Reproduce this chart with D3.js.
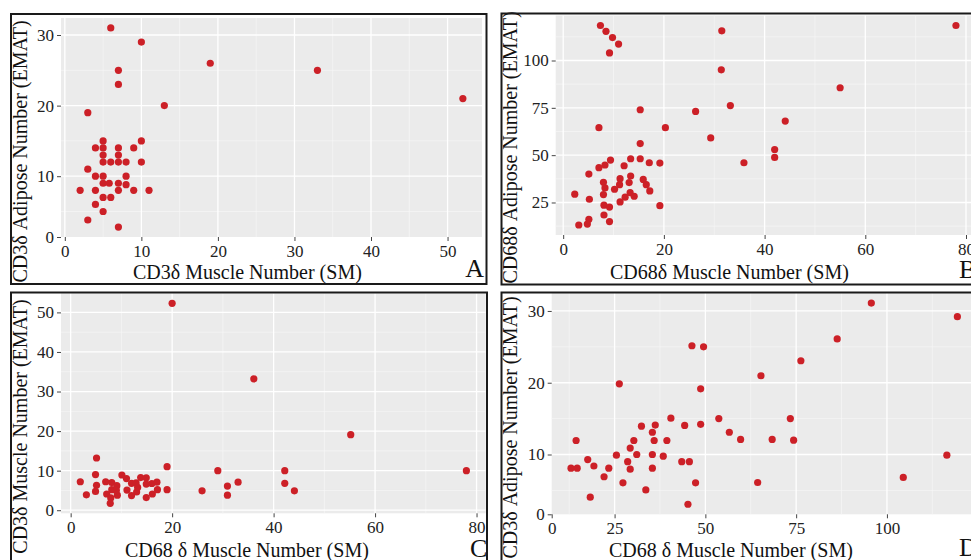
<!DOCTYPE html>
<html>
<head>
<meta charset="utf-8">
<script src="https://cdn.jsdelivr.net/npm/d3@7/dist/d3.min.js"></script>
<style>
body { margin: 0; background: #fff; }
svg { display: block; font-family: "Liberation Serif", "Times New Roman", serif; }
</style>
</head>
<body>
<div id="chart"></div>
<script>
// A: CD3 muscle (x) vs CD3 adipose (y)
var aX = [6,10,7,7,19,13,3,5,10,4,5,7,9,5,7,5,6,7,8,10,3,4,5,8,5,5.8,7,8,2,4,7,9,11,5,6,4,5,3,7,33,52]
var aY = [31,29,25,23,26,20,19,15,15,14,14,14,14,13,13,12,12,12,12,12,11,10,10,10,9,9,9,8.8,8,8,8,8,8,7,7,6,5,3.8,2.8,25,21]

// B: CD68 muscle (x) vs CD68 adipose (y)
var bX = [7.4,8.5,9.8,11,9.2,15.3,7.1,20.3,26.3,29.3,31.5,31.4,33.2,15.3,9.4,13.4,15.3,8.3,7.1,12.1,17.1,19.2,5.1,8,8.3,10.2,11.3,11.2,13.4,13.1,15.9,16.5,17.2,13.3,14.1,12.3,11.3,8,2.3,5.2,8.1,9.2,19.2,8.1,5.1,4.8,9.2,3.1,35.9,42,42,44.1,55,78]
var bY = [118.5,115.4,112.1,108.7,104,74,64.5,64.5,73.1,59.1,115.7,95.1,76.2,56.1,47.4,48.1,48.1,44.8,43.4,44.4,46,45.8,40,35.7,32.7,32,37.6,34.4,39,35.5,37.2,34.4,31.1,30.2,28.3,27.8,25.3,29.2,29.4,26.7,23.6,22.6,23.3,18.4,16.1,13.6,14.9,13.1,46,53,48.8,68,85.6,118.5]

// C: CD68 muscle (x) vs CD3 muscle (y)
var cX = [20,5.1,19,1.9,3.1,4.9,5.1,4.9,6.9,7.1,8.1,8.1,7.9,7.8,9.1,9.2,9,10.1,11,11.1,12,12,12.9,13,13.2,13.8,14.9,14.9,14.9,16,16.1,17,17.1,19,25.9,29,30.9,30.9,33,36.1,55.2,42.2,42.2,44.1,78]
var cY = [52.3,13.2,11,7.2,3.9,9,6.3,4.75,7.2,4.1,7,5.2,3.1,1.75,6.2,3.8,5,8.9,8,5.1,6.8,3.7,6.9,4.6,5.75,8.25,8.2,6.6,3.2,6.75,4.1,7.1,5.2,5.2,4.9,10,6.1,3.8,7.1,33.2,19.1,10,6.8,4.9,10]

// D: CD68 adipose (x) vs CD3 adipose (y)
var dX = [13,14.7,14.4,17.6,18.3,19.3,22.1,23.4,25.5,26.3,27.3,28.6,29.3,29.3,30.3,31.1,32.4,33.6,35.4,35.4,35.4,35.9,36.2,38.4,39.4,40.5,43.5,44.3,45.6,45.2,46.3,47.3,48.7,48.7,49.5,53.7,56.6,59.7,95.7,119.4,86.3,76.3,65.3,73.4,68.4,74.3,64.4,104.5,116.5]
var dY = [8.1,8.1,11.95,9.3,4.05,8.4,6.9,8.1,9.9,19.85,6.05,9,10.9,7.95,11.95,10,13.95,5.06,13.1,10,8.1,11.95,14.1,9.76,11.95,15.06,9,14.05,9,3.07,25.15,6.05,19.15,14.2,25,15,13.1,12.1,31.1,29.2,26.1,23.06,20.97,15,12.1,12,6.1,6.8,9.9]

// tick labels
var aXTicks = [0,10,20,30,40,50], aYTicks = [0,10,20,30]
var bXTicks = [0,20,40,60,80],    bYTicks = [25,50,75,100]
var cXTicks = [0,20,40,60,80],    cYTicks = [0,10,20,30,40,50]
var dXTicks = [0,25,50,75,100],   dYTicks = [0,10,20,30]

var panels = [
  {x: aX, y: aY, xt: aXTicks, yt: aYTicks, plot: [61, 482, 18, 237], frame: [11, 14, 475.5, 270],
   xTitle: "CD3\u03b4 Muscle Number (SM)", yTitle: "CD3\u03b4 Adipose Number (EMAT)",
   xT: [133, 279], yT: [27, 151.5], letter: "A", lp: [484, 277, "end"]},
  {x: bX, y: bY, xt: bXTicks, yt: bYTicks, plot: [555.7, 975, 15.5, 235], frame: [501.5, 13.5, 500, 271],
   xTitle: "CD68\u03b4 Muscle Number (SM)", yTitle: "CD68\u03b4 Adipose Number (EMAT)",
   xT: [610, 279], yT: [517, 147.5], letter: "B", lp: [959, 278, "start"]},
  {x: cX, y: cY, xt: cXTicks, yt: cYTicks, plot: [61, 485.7, 293.3, 513.3], frame: [11, 292.5, 476, 300],
   xTitle: "CD68 \u03b4 Muscle Number (SM)", yTitle: "CD3\u03b4 Muscle Number (EMAT)",
   xT: [125, 557], yT: [27, 426.5], letter: "C", lp: [470, 557, "start"]},
  {x: dX, y: dY, xt: dXTicks, yt: dYTicks, plot: [551.7, 976.7, 293, 514.3], frame: [501.5, 292.5, 500, 300],
   xTitle: "CD68 \u03b4 Muscle Number (SM)", yTitle: "CD3\u03b4 Adipose Number (EMAT)",
   xT: [609, 557], yT: [517, 427.5], letter: "D", lp: [959, 556, "start"]}
]

var svg = d3.select("#chart").append("svg")
  .attr("width", 971)
  .attr("height", 560)

// ggplot style 5% expansion
function expand(v){
  var e = d3.extent(v), pad = (e[1] - e[0]) * 0.05
  return [e[0] - pad, e[1] + pad]
}

// minor breaks halfway between majors, inside the domain
function minors(t, dom){
  var step = t[1] - t[0], out = []
  for(var v = t[0] - step / 2; v <= t[t.length - 1] + step / 2; v += step){
    if(v > dom[0] && v < dom[1]) out.push(v)
  }
  return out
}

panels.forEach(function(p){
  var x0 = p.plot[0], x1 = p.plot[1], y0 = p.plot[2], y1 = p.plot[3]
  var xd = expand(p.x), yd = expand(p.y)

  var xScale = d3.scaleLinear().domain(xd).range([x0, x1]).clamp(true)
  var yScale = d3.scaleLinear().domain(yd).range([y1, y0]).clamp(true)

  var g = svg.append("g")

  g.append("rect")
    .attr("x", x0).attr("y", y0)
    .attr("width", x1 - x0).attr("height", y1 - y0)
    .attr("fill", "#ebebeb")

  // minor grid
  g.selectAll(".mgx").data(minors(p.xt, xd)).enter().append("line")
    .attr("x1", function(d){ return xScale(d) }).attr("x2", function(d){ return xScale(d) })
    .attr("y1", y0).attr("y2", y1)
    .attr("stroke", "#f7f7f7").attr("stroke-width", 0.7)
  g.selectAll(".mgy").data(minors(p.yt, yd)).enter().append("line")
    .attr("y1", function(d){ return yScale(d) }).attr("y2", function(d){ return yScale(d) })
    .attr("x1", x0).attr("x2", x1)
    .attr("stroke", "#f7f7f7").attr("stroke-width", 0.7)

  // major grid
  g.selectAll(".gx").data(p.xt.filter(function(d){ return d >= xd[0] && d <= xd[1] })).enter().append("line")
    .attr("x1", function(d){ return xScale(d) }).attr("x2", function(d){ return xScale(d) })
    .attr("y1", y0).attr("y2", y1)
    .attr("stroke", "#fff").attr("stroke-width", 1.3)
  g.selectAll(".gy").data(p.yt.filter(function(d){ return d >= yd[0] && d <= yd[1] })).enter().append("line")
    .attr("y1", function(d){ return yScale(d) }).attr("y2", function(d){ return yScale(d) })
    .attr("x1", x0).attr("x2", x1)
    .attr("stroke", "#fff").attr("stroke-width", 1.3)

  // points
  g.selectAll(".dot").data(p.x).enter().append("circle")
    .attr("cx", function(d){ return xScale(d) })
    .attr("cy", function(d, i){ return yScale(p.y[i]) })
    .attr("r", 3.6)
    .attr("fill", "#cc2027")

  // axes
  var xa = g.append("g")
    .attr("transform", "translate(0," + y1 + ")")
    .call(d3.axisBottom(xScale).tickValues(p.xt).tickSize(4).tickPadding(4).tickFormat(d3.format("d")))
  var ya = g.append("g")
    .attr("transform", "translate(" + x0 + ",0)")
    .call(d3.axisLeft(yScale).tickValues(p.yt).tickSize(4).tickPadding(3).tickFormat(d3.format("d")))
  ;[xa, ya].forEach(function(a){
    a.attr("font-family", "Liberation Serif, Times New Roman, serif")
     .attr("font-size", 17)
    a.select(".domain").remove()
    a.selectAll("line").attr("stroke", "#444")
    a.selectAll("text").attr("fill", "#222")
  })

  // titles
  g.append("text")
    .attr("x", p.xT[0]).attr("y", p.xT[1])
    .attr("font-size", 20).attr("fill", "#111")
    .text(p.xTitle)
  g.append("text")
    .attr("transform", "translate(" + p.yT[0] + "," + p.yT[1] + ") rotate(-90)")
    .attr("text-anchor", "middle")
    .attr("font-size", 20).attr("fill", "#111")
    .text(p.yTitle)
  g.append("text")
    .attr("x", p.lp[0]).attr("y", p.lp[1])
    .attr("text-anchor", p.lp[2])
    .attr("font-size", 26).attr("fill", "#111")
    .text(p.letter)

  // panel frame
  g.append("rect")
    .attr("x", p.frame[0]).attr("y", p.frame[1])
    .attr("width", p.frame[2]).attr("height", p.frame[3])
    .attr("fill", "none")
    .attr("stroke", "#1a1a1a")
    .attr("stroke-width", 2)
})
</script>
</body>
</html>
